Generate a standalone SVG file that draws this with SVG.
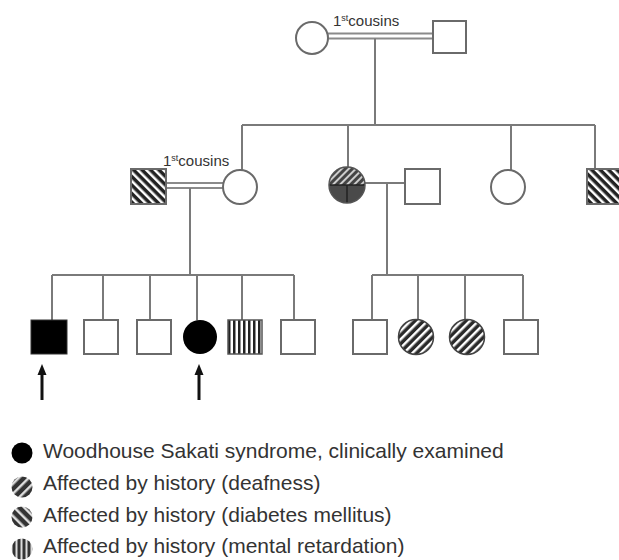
<svg xmlns="http://www.w3.org/2000/svg" width="619" height="560" viewBox="0 0 619 560">
<style>
.conn{stroke:#7a7a7a;stroke-width:2;fill:none}
.dbl{stroke:#8a8a8a;stroke-width:2;fill:none}
.node{stroke:#6a6a6a;stroke-width:2}
.lbl{font-family:"Liberation Sans",Arial,sans-serif;font-size:15px;fill:#333}
.leg{font-family:"Liberation Sans",Arial,sans-serif;font-size:21px;fill:#333}
.arrow{stroke:#111;stroke-width:3}
</style>
<defs>
<pattern id="diab" patternUnits="userSpaceOnUse" width="6" height="6" patternTransform="rotate(-45)">
<rect width="6" height="6" fill="#222"/><rect width="2.5" height="6" fill="#fff"/>
</pattern>
<pattern id="deaf" patternUnits="userSpaceOnUse" width="6" height="6" patternTransform="rotate(45)">
<rect width="6" height="6" fill="#2a2a2a"/><rect width="2.5" height="6" fill="#fff"/>
</pattern>
<pattern id="ment" patternUnits="userSpaceOnUse" x="228" width="5" height="5">
<rect width="5" height="5" fill="#222"/><rect x="2.5" width="2.5" height="5" fill="#fff"/>
</pattern>
<pattern id="deafL" patternUnits="userSpaceOnUse" width="7" height="7" patternTransform="rotate(45)">
<rect width="7" height="7" fill="#333"/><rect width="2.5" height="7" fill="#ddd"/>
</pattern>
<pattern id="diabL" patternUnits="userSpaceOnUse" width="7" height="7" patternTransform="rotate(-45)">
<rect width="7" height="7" fill="#333"/><rect width="2.5" height="7" fill="#ddd"/>
</pattern>
<pattern id="mentL" patternUnits="userSpaceOnUse" x="13" width="5" height="5">
<rect width="5" height="5" fill="#333"/><rect x="2.5" width="2" height="5" fill="#ddd"/>
</pattern>
<pattern id="dots" patternUnits="userSpaceOnUse" width="5" height="5" patternTransform="rotate(45)">
<rect width="5" height="5" fill="#444"/><rect width="2" height="5" fill="#ccc"/>
</pattern>
<clipPath id="topHalf"><rect x="328" y="166" width="38" height="19"/></clipPath>
<clipPath id="botHalf"><rect x="328" y="185" width="38" height="20"/></clipPath>
</defs>

<g id="connectors">
<line class="dbl" x1="328" y1="33.5" x2="433" y2="33.5"/>
<line class="dbl" x1="328" y1="38.5" x2="433" y2="38.5"/>
<line class="conn" x1="375" y1="38.5" x2="375" y2="125"/>
<line class="conn" x1="242" y1="125" x2="595" y2="125"/>
<line class="conn" x1="242" y1="125" x2="242" y2="170"/>
<line class="conn" x1="348" y1="125" x2="348" y2="167"/>
<line class="conn" x1="511" y1="125" x2="511" y2="170"/>
<line class="conn" x1="595" y1="125" x2="595" y2="169"/>
<line class="dbl" x1="166" y1="183" x2="223" y2="183"/>
<line class="dbl" x1="166" y1="188" x2="223" y2="188"/>
<line class="conn" x1="190" y1="188" x2="190" y2="275"/>
<line class="conn" x1="365" y1="183" x2="405" y2="183"/>
<line class="conn" x1="387" y1="183" x2="387" y2="275"/>
<line class="conn" x1="52" y1="275" x2="294" y2="275"/>
<line class="conn" x1="52" y1="275" x2="52" y2="320"/>
<line class="conn" x1="103" y1="275" x2="103" y2="320"/>
<line class="conn" x1="150" y1="275" x2="150" y2="320"/>
<line class="conn" x1="197" y1="275" x2="197" y2="320"/>
<line class="conn" x1="242" y1="275" x2="242" y2="320"/>
<line class="conn" x1="294" y1="275" x2="294" y2="320"/>
<line class="conn" x1="372" y1="275" x2="523" y2="275"/>
<line class="conn" x1="372" y1="275" x2="372" y2="320"/>
<line class="conn" x1="418" y1="275" x2="418" y2="320"/>
<line class="conn" x1="465" y1="275" x2="465" y2="320"/>
<line class="conn" x1="523" y1="275" x2="523" y2="320"/>
</g>

<g id="labels">
<text class="lbl" x="333" y="26">1<tspan font-size="9" dy="-5">st</tspan><tspan dy="5">cousins</tspan></text>
<text class="lbl" x="163" y="166">1<tspan font-size="9" dy="-5">st</tspan><tspan dy="5">cousins</tspan></text>
</g>

<g id="I-1"><circle class="node" cx="312" cy="38" r="16" fill="#fff"/></g>
<g id="I-2"><rect class="node" x="433" y="21" width="33" height="32" fill="#fff"/></g>

<g id="II-1"><rect class="node" x="131" y="169" width="35" height="35" fill="url(#diab)"/></g>
<g id="II-2"><circle class="node" cx="240" cy="187" r="17" fill="#fff"/></g>
<g id="II-3">
<circle cx="347" cy="185" r="18" fill="url(#dots)" clip-path="url(#topHalf)"/>
<circle cx="347" cy="185" r="18" fill="#4a4a4a" clip-path="url(#botHalf)"/>
<line x1="329" y1="185" x2="365" y2="185" stroke="#222" stroke-width="1.5"/>
<line x1="347" y1="185" x2="347" y2="203" stroke="#222" stroke-width="1.5"/>
<circle cx="347" cy="185" r="18" fill="none" stroke="#555" stroke-width="1.5"/>
</g>
<g id="II-4"><rect class="node" x="405" y="169" width="35" height="35" fill="#fff"/></g>
<g id="II-5"><circle class="node" cx="508" cy="187" r="17" fill="#fff"/></g>
<g id="II-6"><rect class="node" x="587" y="169" width="35" height="35" fill="url(#diab)"/></g>

<g id="III-1"><rect x="31" y="320" width="36" height="34" fill="#000" stroke="#333" stroke-width="1"/></g>
<g id="III-2"><rect class="node" x="84" y="320" width="34" height="34" fill="#fff"/></g>
<g id="III-3"><rect class="node" x="137" y="320" width="34" height="34" fill="#fff"/></g>
<g id="III-4"><circle cx="200" cy="337" r="17" fill="#000"/></g>
<g id="III-5"><rect x="228" y="320" width="34" height="34" fill="url(#ment)" stroke="#555" stroke-width="1.5"/></g>
<g id="III-6"><rect class="node" x="281" y="320" width="34" height="34" fill="#fff"/></g>
<g id="III-7"><rect class="node" x="353" y="320" width="34" height="34" fill="#fff"/></g>
<g id="III-8"><circle cx="416" cy="337" r="17.5" fill="url(#deaf)" stroke="#444" stroke-width="1.5"/></g>
<g id="III-9"><circle cx="467" cy="337" r="17.5" fill="url(#deaf)" stroke="#444" stroke-width="1.5"/></g>
<g id="III-10"><rect class="node" x="504" y="320" width="34" height="34" fill="#fff"/></g>

<g id="arrows">
<line class="arrow" x1="42" y1="400" x2="42" y2="372"/>
<polygon points="42,364 37.5,375 46.5,375" fill="#111"/>
<line class="arrow" x1="199" y1="400" x2="199" y2="372"/>
<polygon points="199,364 194.5,375 203.5,375" fill="#111"/>
</g>

<g id="legend">
<circle cx="22" cy="453" r="10.5" fill="#000"/>
<text class="leg" x="43" y="458">Woodhouse Sakati syndrome, clinically examined</text>
<circle cx="22" cy="487" r="10.5" fill="url(#deafL)"/>
<text class="leg" x="43" y="490">Affected by history (deafness)</text>
<circle cx="22" cy="517" r="10.5" fill="url(#diabL)"/>
<text class="leg" x="43" y="522">Affected by history (diabetes mellitus)</text>
<circle cx="22" cy="549" r="10.5" fill="url(#mentL)"/>
<text class="leg" x="43" y="553">Affected by history (mental retardation)</text>
</g>
</svg>
